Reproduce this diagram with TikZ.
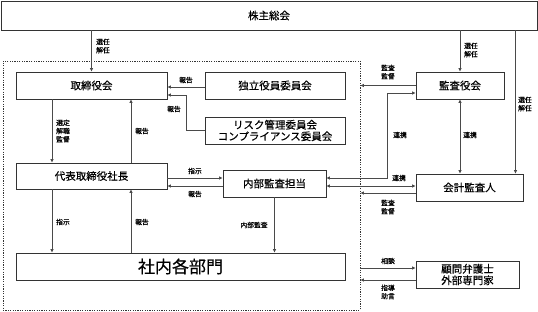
\documentclass[tikz,border=0pt]{standalone}
\usepackage{fontspec}
\setmainfont{Noto Sans CJK JP}
\newfontfamily\lblfont{Noto Sans CJK JP}[FakeBold=0.6]
\newfontfamily\boxfont{Noto Sans CJK JP}[FakeBold=0.4]
\usetikzlibrary{arrows.meta}
\definecolor{linec}{HTML}{4A4A4A}
\definecolor{boxc}{HTML}{333333}
\tikzset{
  box/.style={draw=boxc, line width=0.9pt, fill=white, inner sep=0pt, font=\boxfont\fontsize{10.5}{12}\selectfont, text=black},
  grpbox/.style={draw=boxc, line width=0.9pt, dash pattern=on 1.2pt off 1.2pt, inner sep=0pt},
  conn/.style={draw=linec, line width=0.9pt, -{Triangle[length=3.5pt,width=3pt]}},
  dconn/.style={draw=linec, line width=0.9pt, {Triangle[length=3.5pt,width=3pt]}-{Triangle[length=3.5pt,width=3pt]}},
  lbl/.style={font=\lblfont\fontsize{6.8}{8.3}\selectfont, align=center, inner sep=0pt, text=black}
}
\begin{document}
\begin{tikzpicture}[x=1pt,y=-1pt]
\useasboundingbox (0,0) rectangle (538,311);
% group
\node[grpbox, minimum width=357pt, minimum height=249pt] (grp) at (181.5,185.5) {};
% boxes
\node[box, minimum width=536pt, minimum height=29pt] (sh) at (269,15.5) {株主総会};
\node[box, minimum width=151pt, minimum height=27pt] (tb) at (91.5,85.5) {取締役会};
\node[box, minimum width=140pt, minimum height=27pt] (dk) at (275,85.5) {独立役員委員会};
\node[box, minimum width=140pt, minimum height=27pt, align=center, font=\boxfont\fontsize{10.5}{11.5}\selectfont] (rk) at (275,130.5) {リスク管理委員会\\コンプライアンス委員会};
\node[box, minimum width=88pt, minimum height=27pt] (kk) at (460,85.5) {監査役会};
\node[box, minimum width=151pt, minimum height=26pt] (dh) at (91.5,176) {代表取締役社長};
\node[box, minimum width=103pt, minimum height=27pt] (nb) at (274.5,183.5) {内部監査担当};
\node[box, minimum width=329pt, minimum height=27pt, font=\boxfont\fontsize{17}{18}\selectfont] (sn) at (180.5,266.5) {社内各部門};
\node[box, minimum width=107pt, minimum height=27pt] (ka) at (469.5,187.5) {会計監査人};
\node[box, minimum width=103pt, minimum height=27pt, align=center, font=\boxfont\fontsize{10.5}{11.5}\selectfont] (km) at (467.5,274.5) {顧問弁護士\\外部専門家};
% coordinates
\coordinate (kaTop) at ([xshift=-8pt]ka.north east);
\coordinate (dkA) at ([yshift=-1.5pt]dk.west);
\coordinate (rkBend) at ([xshift=19pt,yshift=-9.5pt]tb.east);
\coordinate (tbB) at ([yshift=-9.5pt]tb.east);
\coordinate (tbL) at ([xshift=-39.5pt]tb.south);
\coordinate (tbR) at ([xshift=39.5pt]tb.south);
\coordinate (dhL) at ([xshift=-39.5pt]dh.south);
\coordinate (dhR) at ([xshift=39.5pt]dh.south);
\coordinate (nbU) at ([yshift=5.5pt]nb.east);
\coordinate (kkL) at ([yshift=-7.5pt]kk.west);
\coordinate (kkBend) at ([xshift=-28pt,yshift=-7.5pt]kk.west);
\coordinate (kaA) at ([yshift=1.5pt]ka.west);
\coordinate (kaB) at ([yshift=-5.5pt]ka.west);
\coordinate (dhA) at ([yshift=-2pt]dh.east);
\coordinate (nbA) at ([yshift=-2.5pt]nb.west);
\coordinate (kmA) at ([yshift=6.5pt]km.west);
\coordinate (kmB) at ([yshift=-5.5pt]km.west);
% connectors
\draw[conn] (tb.north |- sh.south) -- (tb.north);
\draw[conn] (kk.north |- sh.south) -- (kk.north);
\draw[conn] (kaTop |- sh.south) -- (kaTop);
\draw[conn] (dkA) -- (dkA -| tb.east);
\draw[conn] (rk.west) -| (rkBend) -- (tbB);
\draw[conn] (tbL) -- (tbL |- dh.north);
\draw[conn] (dhR |- dh.north) -- (tbR);
\draw[conn] (kk.west) -- (kk.west -| grp.east);
\draw[dconn] (nbU) -| (kkBend) -- (kkL);
\draw[dconn] (kk.south) -- (kk.south |- ka.north);
\draw[dconn] (kaA) -- (kaA -| nb.east);
\draw[conn] (kaB) -- (kaB -| grp.east);
\draw[conn] (dhA) -- (dhA -| nb.west);
\draw[conn] (nbA) -- (nbA -| dh.east);
\draw[conn] (dhL) -- (dhL |- sn.north);
\draw[conn] (dhR |- sn.north) -- (dhR);
\draw[conn] (nb.south) -- (nb.south |- sn.north);
\draw[conn] (kmA -| grp.east) -- (kmA);
\draw[conn] (kmB) -- (kmB -| grp.east);
% labels
\node[lbl] (l1) at (103,46) {選任\\解任};
\node[lbl] (l2) at (471,50) {選任\\解任};
\node[lbl] (l3) at (525,104) {選任\\解任};
\node[lbl] (l4) at (186,80) {報告};
\node[lbl] (l5) at (174,109) {報告};
\node[lbl] (l6) at (63,131) {選定\\解職\\監督};
\node[lbl] (l7) at (142,131) {報告};
\node[lbl] (l8) at (388,72) {監査\\監督};
\node[lbl] (l9) at (400,135) {連携};
\node[lbl] (l10) at (470,135) {連携};
\node[lbl] (l11) at (399,178) {連携};
\node[lbl] (l12) at (388,207) {監査\\監督};
\node[lbl] (l13) at (195,171) {指示};
\node[lbl] (l14) at (195,194) {報告};
\node[lbl] (l15) at (63,222) {指示};
\node[lbl] (l16) at (142,222) {報告};
\node[lbl] (l17) at (254,225) {内部監査};
\node[lbl] (l18) at (388,261) {相談};
\node[lbl] (l19) at (388,292) {指導\\助言};
\end{tikzpicture}
\end{document}
